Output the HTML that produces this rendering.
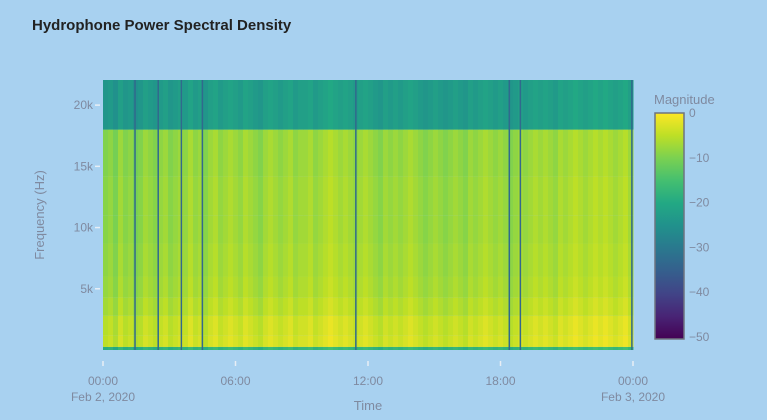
<!DOCTYPE html>
<html><head><meta charset="utf-8">
<style>
body{margin:0;background:#a8d1f0;font-family:"Liberation Sans",sans-serif;}
svg text{font-family:"Liberation Sans",sans-serif;}
</style></head>
<body>
<svg id="c" width="767" height="415">
<rect width="767" height="415" fill="#a8d1f0"/>
<text x="32" y="30" font-size="15" font-weight="bold" fill="#222">Hydrophone Power Spectral Density</text>
<g id="heat"></g>
<g id="axes"></g>
<defs><linearGradient id="vg" x1="0" y1="1" x2="0" y2="0">
<stop offset="0" stop-color="#440154"/><stop offset="0.1" stop-color="#482475"/><stop offset="0.2" stop-color="#414487"/><stop offset="0.3" stop-color="#355f8d"/><stop offset="0.4" stop-color="#2a788e"/><stop offset="0.5" stop-color="#21918c"/><stop offset="0.6" stop-color="#22a884"/><stop offset="0.7" stop-color="#44bf70"/><stop offset="0.8" stop-color="#7ad151"/><stop offset="0.9" stop-color="#bddf26"/><stop offset="1" stop-color="#fde725"/></linearGradient></defs>
<text x="654" y="104" font-size="13" fill="#7f8aa0">Magnitude</text>
<rect x="655" y="113" width="29" height="226" fill="url(#vg)" stroke="#6e7480" stroke-width="1.5"/>
<g id="cbt"></g>
</svg>
<script>
const bandEdges=[0,250,1200,2800,4300,6000,8700,11000,14200,18000,22050];
const bandValues=[-14,0,-0.5,-2,-3,-3.5,-4,-4,-4.5,-19];
const colValues=[-5,-4,-6,-3,-5,-4,-6,-5,-3,-4,-5,-4,-3,-5,-4,-3,-4,-2,-4,-3,-5,-3,-2,-4,-3,-2,-3,-4,-2,-3,-4,-5,-3,-2,-3,-4,-3,-2,-4,-3,-3,-2,-4,-3,-2,-1,-2,-3,-2,-3,-4,-3,-2,-3,-4,-5,-3,-4,-3,-4,-3,-2,-3,-4,-5,-4,-3,-4,-5,-4,-3,-4,-5,-3,-4,-3,-2,-3,-4,-3,-4,-5,-4,-3,-4,-3,-2,-3,-2,-3,-4,-2,-3,-2,-1,-2,-3,-2,-1,-2,-1,-2,-3,-2,-1,-3];
const dropoutHours=[1.45,2.5,3.55,4.5,11.45,18.4,18.9,23.95];
const dropoutValue=-33;
const yTicks=[5000,10000,15000,20000];
const yTickLabels=["5k","10k","15k","20k"];
const xTickHours=[0,6,12,18,24];
const xTickLabels=["00:00","06:00","12:00","18:00","00:00"];
const cbTicks=[0,-10,-20,-30,-40,-50];
const X0=103,X1=633,Y0=350,Y1=80,FMAX=22050;
const xs=h=>X0+(X1-X0)*h/24, ys=f=>Y0-(Y0-Y1)*f/FMAX;
const vir=[[68,1,84],[72,36,117],[65,68,135],[53,95,141],[42,120,142],[33,145,140],[34,168,132],[68,191,112],[122,209,81],[189,223,38],[253,231,37]];
function col(v){let t=Math.max(0,Math.min(1,(v+50)/50))*10;let i=Math.min(9,Math.floor(t)),f=t-i;const a=vir[i],b=vir[i+1];return `rgb(${a.map((c,k)=>Math.round(c+(b[k]-c)*f)).join(',')})`;}
const NS="http://www.w3.org/2000/svg";
function mk(tag,attrs,parent){const e=document.createElementNS(NS,tag);for(const k in attrs)e.setAttribute(k,attrs[k]);parent.appendChild(e);return e;}
const heat=document.getElementById('heat');
const n=colValues.length;
for(let i=0;i<n;i++){for(let j=0;j<bandValues.length;j++){
 const x=xs(24*i/n),w=xs(24*(i+1)/n)-x+0.5,y=ys(bandEdges[j+1]),h=ys(bandEdges[j])-y;
 const r=mk('rect',{x:x,y:y,width:w,height:h,fill:col(bandValues[j]+colValues[i])},heat);
 
 
}}
dropoutHours.forEach(h=>{
 const r=mk('rect',{x:xs(h)-0.75,y:Y1,width:1.5,height:Y0-Y1,fill:col(dropoutValue)},heat);
 
 
});
const ax=document.getElementById('axes');
yTicks.forEach((f,i)=>{
 const y=ys(f);
 const l=mk('line',{x1:X0-8,x2:X0-3,y1:y,y2:y,stroke:'#e8eef5','stroke-width':1.5},ax);
 
 
 const t=mk('text',{x:X0-10,y:y+4,'font-size':12,fill:'#7f8aa0','text-anchor':'end'},ax);t.textContent=yTickLabels[i];
 
 
});
xTickHours.forEach((h,i)=>{
 const x=xs(h);
 const l=mk('line',{x1:x,x2:x,y1:Y0+11,y2:Y0+16,stroke:'#e8eef5','stroke-width':1.5},ax);
 
 
 const t=mk('text',{x:x,y:385,'font-size':12,fill:'#7f8aa0','text-anchor':'middle'},ax);t.textContent=xTickLabels[i];
 
 
});
[[X0,"Feb 2, 2020"],[X1,"Feb 3, 2020"]].forEach(d=>{
 const t=mk('text',{x:d[0],y:401,'font-size':12,fill:'#7f8aa0','text-anchor':'middle'},ax);t.textContent=d[1];
 
 
});
const xt=mk('text',{x:368,y:410,'font-size':13,fill:'#7f8aa0','text-anchor':'middle'},ax);xt.textContent="Time";


const yt=mk('text',{x:44,y:215,'font-size':13,fill:'#7f8aa0','text-anchor':'middle',transform:'rotate(-90 44 215)'},ax);yt.textContent="Frequency (Hz)";


const cbt=document.getElementById('cbt');
cbTicks.forEach(v=>{
 const y=113+(0-v)/50*224;
 const t=mk('text',{x:689,y:y+4,'font-size':12,fill:'#7f8aa0'},cbt);t.textContent=v===0?"0":"−"+(-v);
 
 
});
</script>
</body></html>
